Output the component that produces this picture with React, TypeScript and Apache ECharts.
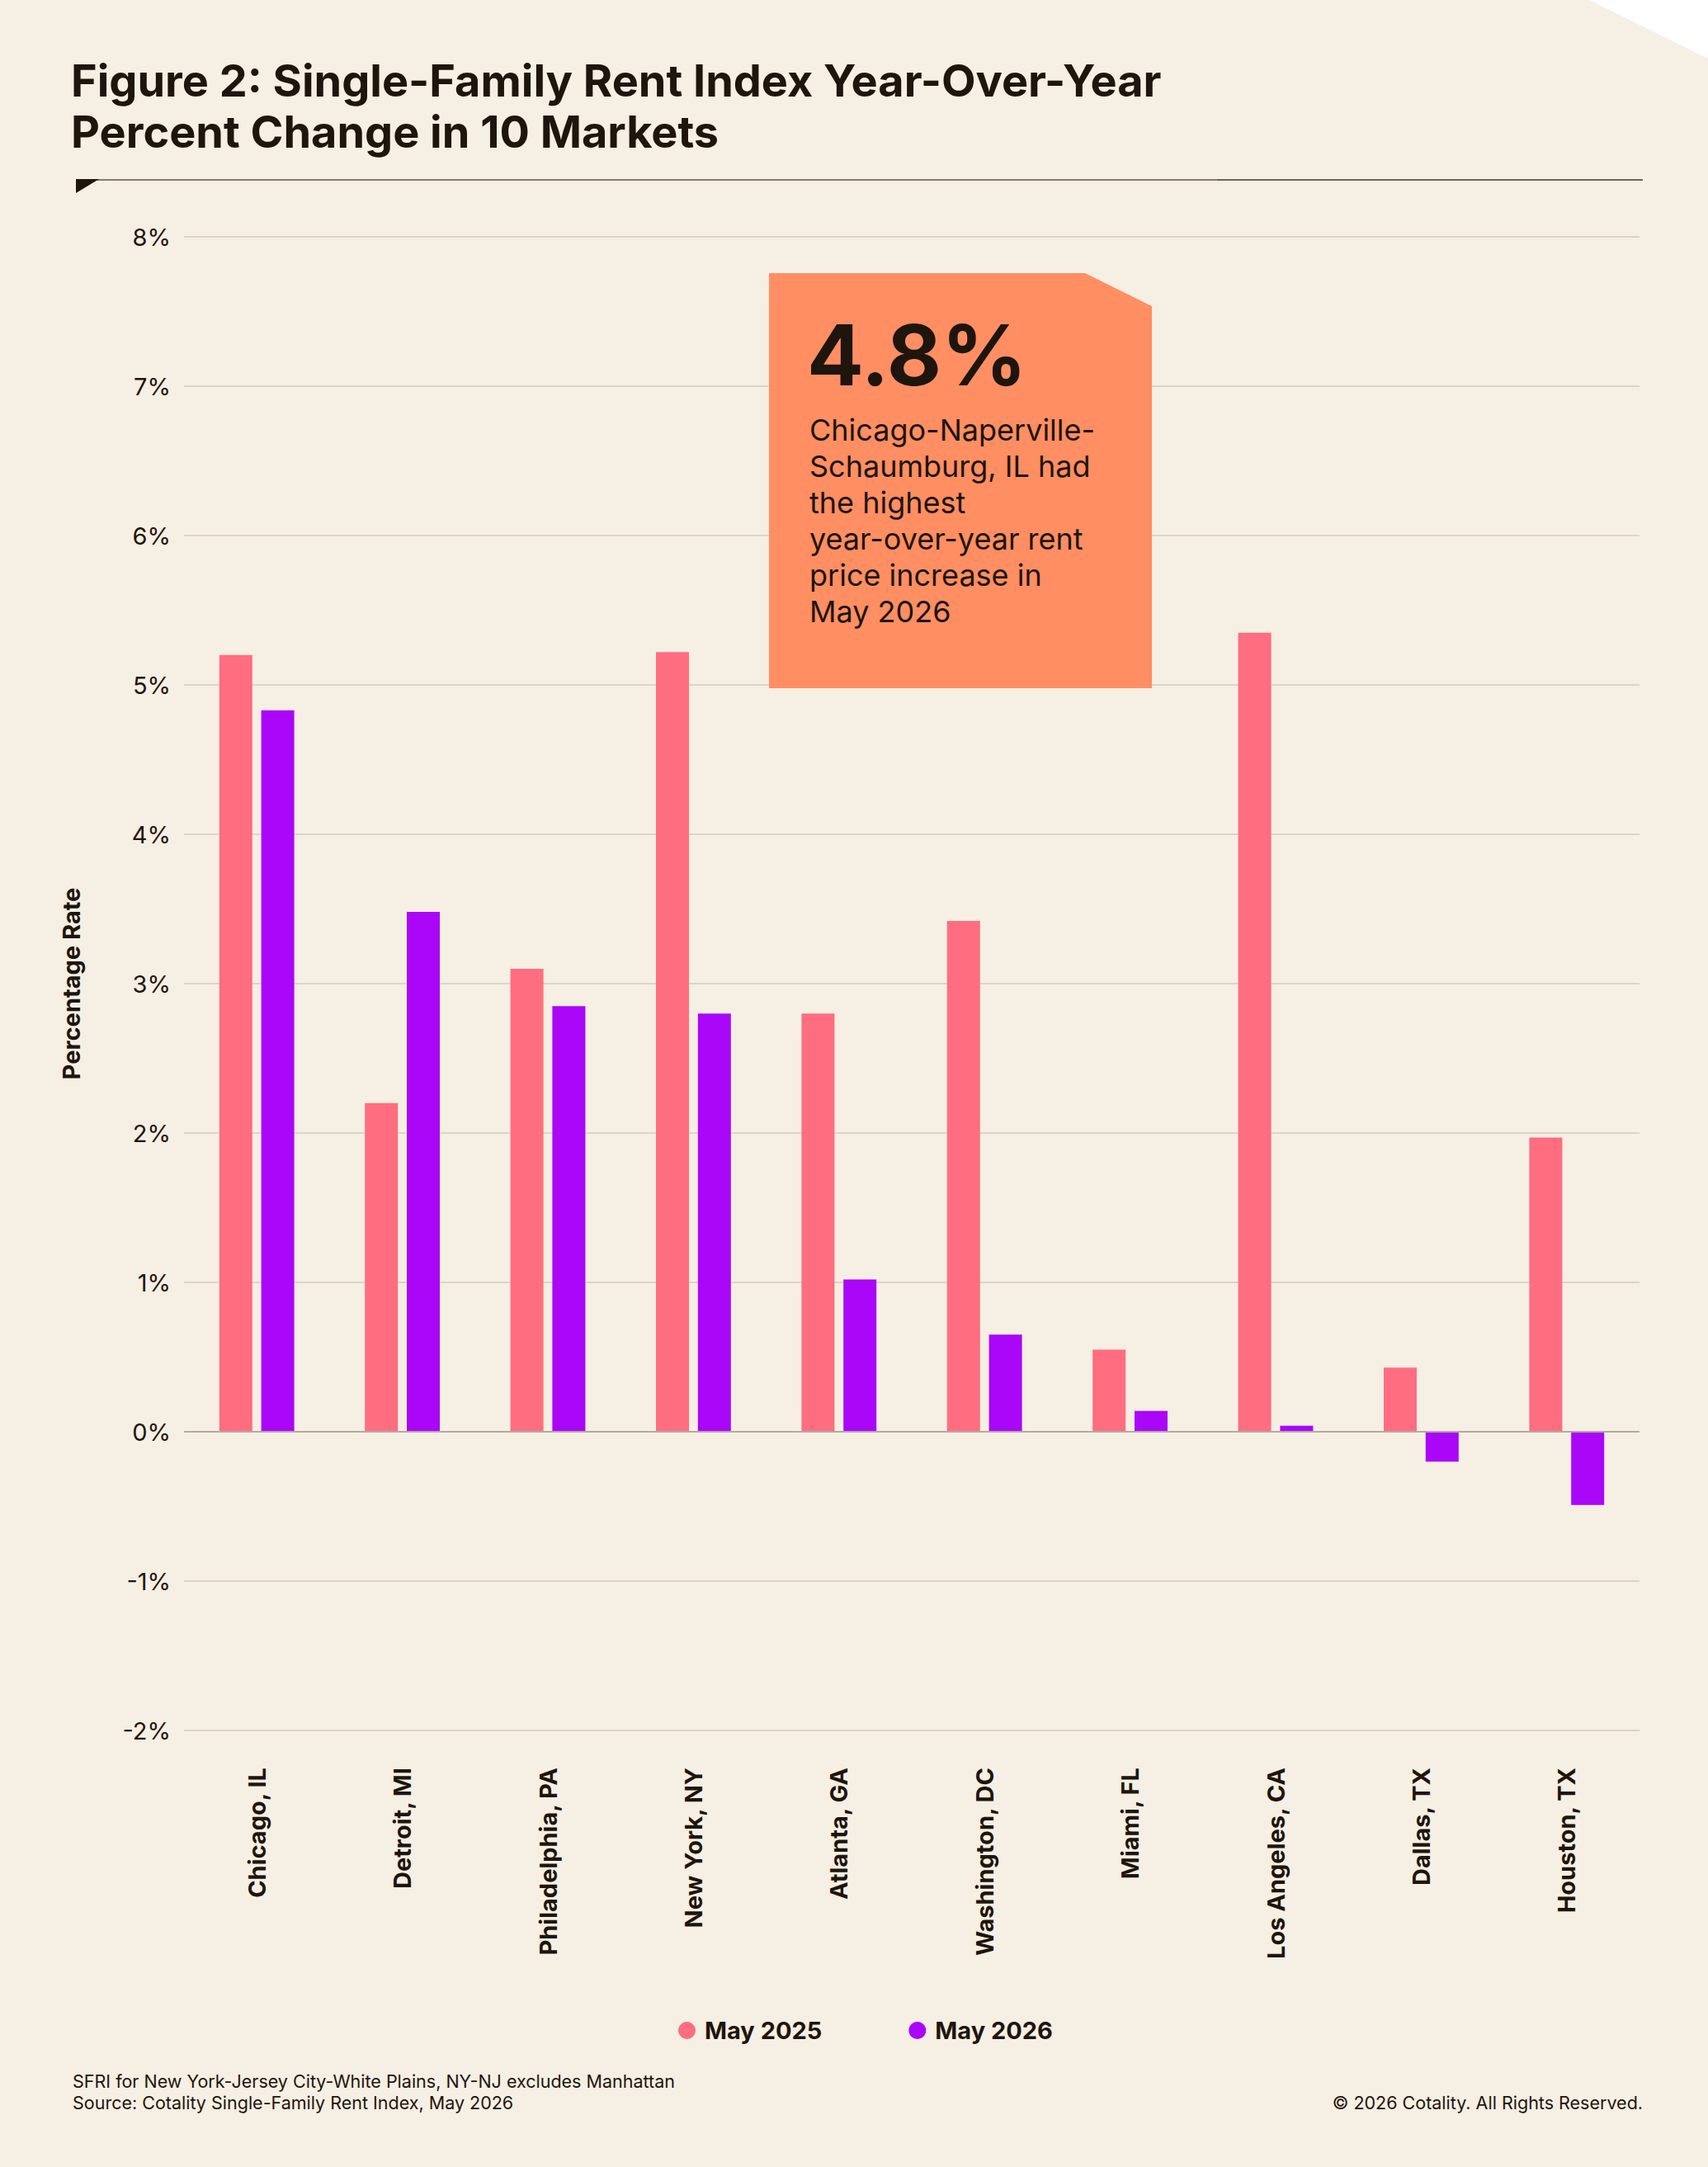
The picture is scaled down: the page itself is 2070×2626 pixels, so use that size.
import React, { useEffect, useRef } from "react";
import * as echarts from "echarts";

// Markets and year-over-year rent change (%)
const categories = [
  "Chicago, IL",
  "Detroit, MI",
  "Philadelphia, PA",
  "New York, NY",
  "Atlanta, GA",
  "Washington, DC",
  "Miami, FL",
  "Los Angeles, CA",
  "Dallas, TX",
  "Houston, TX",
];
const may2025 = [5.2, 2.2, 3.1, 5.22, 2.8, 3.42, 0.55, 5.35, 0.43, 1.97];
const may2026 = [4.83, 3.48, 2.85, 2.8, 1.02, 0.65, 0.14, 0.04, -0.2, -0.49];
const seriesNames = ["May 2025", "May 2026"];

const yMin = -2;
const yMax = 8;
const yStep = 1;

const titleLines = [
  "Figure 2: Single-Family Rent Index Year-Over-Year",
  "Percent Change in 10 Markets",
];
const calloutValue = "4.8%";
const calloutText =
  "Chicago-Naperville-\nSchaumburg, IL had\nthe highest\nyear-over-year rent\nprice increase in\nMay 2026";
const footNotes = [
  "SFRI for New York-Jersey City-White Plains, NY-NJ excludes Manhattan",
  "Source: Cotality Single-Family Rent Index, May 2026",
];
const copyright = "© 2026 Cotality. All Rights Reserved.";

const BG = "#F6EFE3";
const INK = "#1E150C";
const PINK = "#FF6D80";
const PURPLE = "#AA06F8";
const ORANGE = "#FF8E63";
const FONT = "Inter, 'Noto Sans', sans-serif";

export default function App() {
  const ref = useRef<HTMLDivElement>(null);

  useEffect(() => {
    if (!ref.current) return;
    const chart = echarts.init(ref.current, undefined, { renderer: "svg" });

    const option = {
      animation: false,
      backgroundColor: BG,
      textStyle: { fontFamily: FONT, color: INK },
      grid: { left: 223, right: 83, top: 287, bottom: 529, containLabel: false },
      legend: {
        data: seriesNames,
        left: 817,
        top: 2441,
        icon: "circle",
        itemWidth: 21,
        itemHeight: 21,
        itemGap: 105,
        textStyle: {
          fontFamily: FONT,
          fontSize: 29,
          fontWeight: "bold",
          color: INK,
          padding: [0, 0, 0, 6],
        },
      },
      xAxis: {
        type: "category",
        data: categories,
        axisLine: { show: false, onZero: false },
        axisTick: { show: false },
        splitLine: { show: false },
        axisLabel: {
          rotate: 90,
          margin: 45,
          fontFamily: FONT,
          fontSize: 29,
          fontWeight: "bold",
          color: INK,
          interval: 0,
        },
      },
      yAxis: {
        type: "value",
        min: yMin,
        max: yMax,
        interval: yStep,
        name: "Percentage Rate",
        nameLocation: "middle",
        nameGap: 122,
        nameRotate: 90,
        nameTextStyle: {
          fontFamily: FONT,
          fontSize: 29,
          fontWeight: "bold",
          color: INK,
        },
        axisLine: { show: false },
        axisTick: { show: false },
        axisLabel: {
          formatter: (v: number) => `${v}%`,
          fontFamily: FONT,
          fontSize: 29,
          color: INK,
          margin: 16,
        },
        splitLine: { lineStyle: { color: "#DCD4C9", width: 2 } },
      },
      series: [
        {
          name: seriesNames[0],
          type: "bar",
          data: may2025,
          barWidth: 40,
          barGap: "27%",
          itemStyle: { color: PINK },
          markLine: {
            silent: true,
            symbol: "none",
            label: { show: false },
            lineStyle: { color: "#B3AAA0", width: 2, type: "solid" },
            data: [{ yAxis: 0 }],
          },
        },
        {
          name: seriesNames[1],
          type: "bar",
          data: may2026,
          barWidth: 40,
          itemStyle: { color: PURPLE },
        },
      ],
      graphic: [
        // top-right corner cut
        {
          type: "polygon",
          z: 10,
          shape: { points: [[1926, 0], [2070, 0], [2070, 71]] },
          style: { fill: "#FFFFFF" },
        },
        // title
        {
          type: "text",
          z: 10,
          x: 86,
          y: 97,
          style: {
            text: titleLines[0],
            fontFamily: FONT,
            fontSize: 54,
            fontWeight: "bold",
            fill: INK,
            verticalAlign: "middle",
          },
        },
        {
          type: "text",
          z: 10,
          x: 86,
          y: 159,
          style: {
            text: titleLines[1],
            fontFamily: FONT,
            fontSize: 54,
            fontWeight: "bold",
            fill: INK,
            verticalAlign: "middle",
          },
        },
        // rule under title: lighter long segment, darker short end
        {
          type: "line",
          z: 10,
          shape: { x1: 92, y1: 218, x2: 1475, y2: 218 },
          style: { stroke: "#857C72", lineWidth: 2 },
        },
        {
          type: "line",
          z: 10,
          shape: { x1: 1475, y1: 218, x2: 1991, y2: 218 },
          style: { stroke: "#3F382F", lineWidth: 1.6 },
        },
        {
          type: "polygon",
          z: 11,
          shape: { points: [[92, 217], [120, 217], [92, 234]] },
          style: { fill: INK },
        },
        // callout box
        {
          type: "polygon",
          z: 10,
          shape: {
            points: [[932, 331], [1315, 331], [1396, 371], [1396, 834], [932, 834]],
          },
          style: { fill: ORANGE },
        },
        {
          type: "text",
          z: 11,
          x: 978,
          y: 430,
          style: {
            text: calloutValue,
            fontFamily: FONT,
            fontSize: 102,
            fontWeight: "bold",
            fill: INK,
            verticalAlign: "middle",
          },
        },
        {
          type: "text",
          z: 11,
          x: 981,
          y: 499,
          style: {
            text: calloutText,
            fontFamily: FONT,
            fontSize: 36,
            lineHeight: 44,
            fill: INK,
            verticalAlign: "top",
          },
        },
        // footnotes
        {
          type: "text",
          z: 10,
          x: 88,
          y: 2522,
          style: {
            text: footNotes[0],
            fontFamily: FONT,
            fontSize: 21.5,
            fill: INK,
            verticalAlign: "middle",
          },
        },
        {
          type: "text",
          z: 10,
          x: 88,
          y: 2548,
          style: {
            text: footNotes[1],
            fontFamily: FONT,
            fontSize: 21.5,
            fill: INK,
            verticalAlign: "middle",
          },
        },
        {
          type: "text",
          z: 10,
          x: 1991,
          y: 2548,
          style: {
            text: copyright,
            fontFamily: FONT,
            fontSize: 21.5,
            fill: INK,
            align: "right",
            verticalAlign: "middle",
          },
        },
      ],
    };

    chart.setOption(option as any);
    return () => chart.dispose();
  }, []);

  return (
    <div
      ref={ref}
      style={{ position: "absolute", left: 0, top: 0, width: 2070, height: 2626 }}
    />
  );
}
